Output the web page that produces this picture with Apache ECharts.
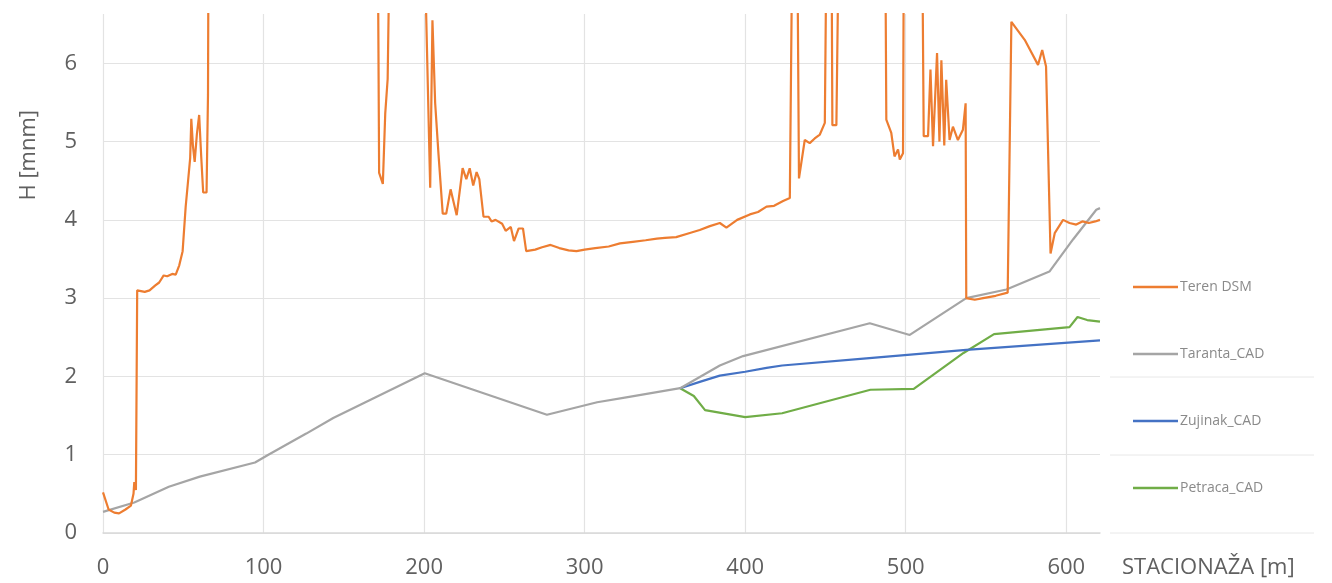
<!DOCTYPE html>
<html>
<head>
<meta charset="utf-8">
<script src="https://cdn.jsdelivr.net/npm/echarts@6/dist/echarts.min.js"></script>
<style>
html,body{margin:0;padding:0;background:#fff;}
#chart{width:1332px;height:583px;}
</style>
</head>
<body>
<div id="chart"></div>
<script>
// Series names
var seriesNames = ['Teren DSM', 'Taranta_CAD', 'Zujinak_CAD', 'Petraca_CAD'];
// Axis titles
var xAxisTitle = 'STACIONAŽA [m]';
var yAxisTitle = 'H [mnm]';

// Teren DSM [stationing m, H mnm] (values above 6.63 run off the top of the chart)
var terenDSM = [
  [0,0.52],[3.5,0.30],[7,0.26],[10,0.25],[14,0.30],[17.4,0.35],[19,0.5],[19.5,0.65],[20.5,0.55],
  [21.3,3.1],[26,3.08],[29,3.1],[32.4,3.16],[35,3.2],[37.8,3.29],[40,3.28],[43.1,3.31],[45.3,3.3],
  [47.5,3.42],[49.6,3.6],[51.5,4.17],[53,4.5],[54.3,4.79],[55,5.29],[56,4.95],[57.1,4.74],[58.5,5.1],
  [59.9,5.34],[61.2,4.8],[62.4,4.35],[64.5,4.35],[65.4,5.6],[65.7,7.5],[171.2,7.5],[172,4.6],
  [174.3,4.46],[175.8,5.36],[177.3,5.8],[178.5,7.5],[200.3,7.5],[203.8,4.41],[205.2,6.55],[206.9,5.49],
  [209,4.83],[211.6,4.08],[213.8,4.08],[216.5,4.39],[220.3,4.06],[224,4.66],[226.3,4.52],[228.4,4.66],
  [230.6,4.44],[232.7,4.61],[234.4,4.52],[237,4.04],[240.2,4.04],[242,3.98],[244.5,4.0],[248.6,3.95],
  [250.8,3.86],[254,3.91],[256,3.73],[258.9,3.89],[261.6,3.89],[263.6,3.6],[269.2,3.62],[273.5,3.65],
  [278.8,3.68],[284.2,3.64],[290,3.61],[294.9,3.6],[300,3.62],[306.6,3.64],[315,3.66],[322,3.7],
  [330,3.72],[338,3.74],[345,3.76],[350,3.77],[357,3.78],[365,3.83],[371.7,3.87],[378,3.92],
  [384.2,3.96],[388.3,3.9],[395,4.0],[402.9,4.07],[408,4.1],[413.3,4.17],[418,4.18],[423.6,4.24],
  [427.8,4.28],[429.3,7.5],[432.5,7.5],[433.5,4.53],[437.1,5.02],[440.2,4.98],[443.3,5.04],[446.5,5.09],
  [449.6,5.24],[450.6,7.5],[453.8,7.5],[454.3,5.21],[456.8,5.21],[458.2,7.5],[487.3,7.5],[487.9,5.28],
  [491,5.11],[493,4.81],[495.2,4.9],[496.3,4.77],[498.3,4.85],[498.8,7.5],[510.3,7.5],[511.2,5.07],
  [513.9,5.07],[515.4,5.92],[517,4.94],[519.5,6.13],[521,5.0],[522.2,6.04],[524,4.95],[525.2,5.79],
  [527.3,5.02],[529.4,5.19],[532.5,5.02],[535.6,5.15],[537.3,5.49],[537.7,3.0],[543,2.98],[548.2,3.0],
  [556,3.03],[563.5,3.07],[565.8,6.53],[574.1,6.3],[582.4,5.98],[585,6.17],[587.4,5.96],[590.2,3.57],
  [592.8,3.83],[598,4.0],[602,3.96],[606.2,3.94],[610,3.98],[614,3.96],[618,3.98],[621,4.0]
];
var tarantaCAD = [
  [0,0.27],[19.5,0.39],[41,0.59],[60.3,0.72],[94.7,0.9],[103,1.0],[126.6,1.27],[143.4,1.47],
  [200.4,2.04],[276.5,1.51],[307.8,1.67],[325,1.73],[359.5,1.85],[384.2,2.14],[398.7,2.26],
  [477.6,2.68],[502.5,2.53],[537.7,3.0],[562.7,3.11],[589.5,3.34],[604.2,3.75],[618.7,4.13],[621,4.15]
];
var zujinakCAD = [
  [359.5,1.85],[371.7,1.93],[384.2,2.01],[400,2.06],[413.3,2.11],[423,2.14],[475.5,2.23],
  [537.7,2.34],[621,2.46]
];
var petracaCAD = [
  [359.5,1.85],[368,1.75],[375,1.57],[400,1.48],[423,1.53],[478,1.83],[505,1.84],[536,2.3],
  [555,2.54],[602,2.63],[607,2.76],[613,2.72],[621,2.7]
];
// Axis ranges / tick steps
var xRange = [0, 621], xStep = 100;
var yRange = [0, 6.63], yStep = 1;

var colors = ['#ED7D31', '#A5A5A5', '#4472C4', '#70AD47'];
var dataSets = [terenDSM, tarantaCAD, zujinakCAD, petracaCAD];

var chart = echarts.init(document.getElementById('chart'), null, {renderer: 'canvas'});
var labelFont = {fontFamily: 'Open Sans', fontSize: 22, color: '#606060'};

var series = seriesNames.map(function (n, i) {
  return {
    name: n, type: 'line', data: dataSets[i], symbol: 'none', smooth: false, clip: true,
    lineStyle: {color: colors[i], width: 2.2}, itemStyle: {color: colors[i]},
    z: 10 - i
  };
});

var faintLines = [377, 455, 533].map(function (y) {
  return {type: 'line', shape: {x1: 1110, y1: y, x2: 1314, y2: y}, style: {stroke: '#e8e8e8', lineWidth: 1}};
});

chart.setOption({
  backgroundColor: '#ffffff',
  animation: false,
  grid: {left: 103, right: 232, top: 14, bottom: 50, containLabel: false},
  xAxis: {
    type: 'value', min: xRange[0], max: xRange[1], interval: xStep,
    name: xAxisTitle, nameLocation: 'end', nameGap: 22,
    nameTextStyle: {fontFamily: 'Open Sans', fontSize: 22, color: '#606060', align: 'left', verticalAlign: 'top', padding: [24, 0, 0, 0]},
    axisLine: {show: true, lineStyle: {color: '#d9d9d9', width: 1.5}},
    axisTick: {show: false},
    axisLabel: Object.assign({margin: 24, showMaxLabel: false}, labelFont),
    splitLine: {show: true, showMaxLine: false, lineStyle: {color: '#e3e3e3', width: 1.2}}
  },
  yAxis: {
    type: 'value', min: yRange[0], max: yRange[1], interval: yStep,
    axisLine: {show: false}, axisTick: {show: false},
    axisLabel: Object.assign({margin: 26, showMaxLabel: false}, labelFont),
    splitLine: {show: true, showMaxLine: false, lineStyle: {color: '#e3e3e3', width: 1.2}}
  },
  legend: {
    orient: 'vertical', left: 1133, top: 280, padding: 0,
    icon: 'rect', itemWidth: 45, itemHeight: 2.5, itemGap: 53,
    textStyle: {fontFamily: 'Open Sans', fontSize: 14, color: '#8a8a8a', padding: [0, 0, 0, -3]},
    data: seriesNames
  },
  graphic: faintLines.concat([
    {
      type: 'text', left: 18, top: 110, rotation: Math.PI / 2,
      style: {text: yAxisTitle, font: '22px "Open Sans"', fill: '#606060'}
    }
  ]),
  series: series
});
</script>
</body>
</html>
